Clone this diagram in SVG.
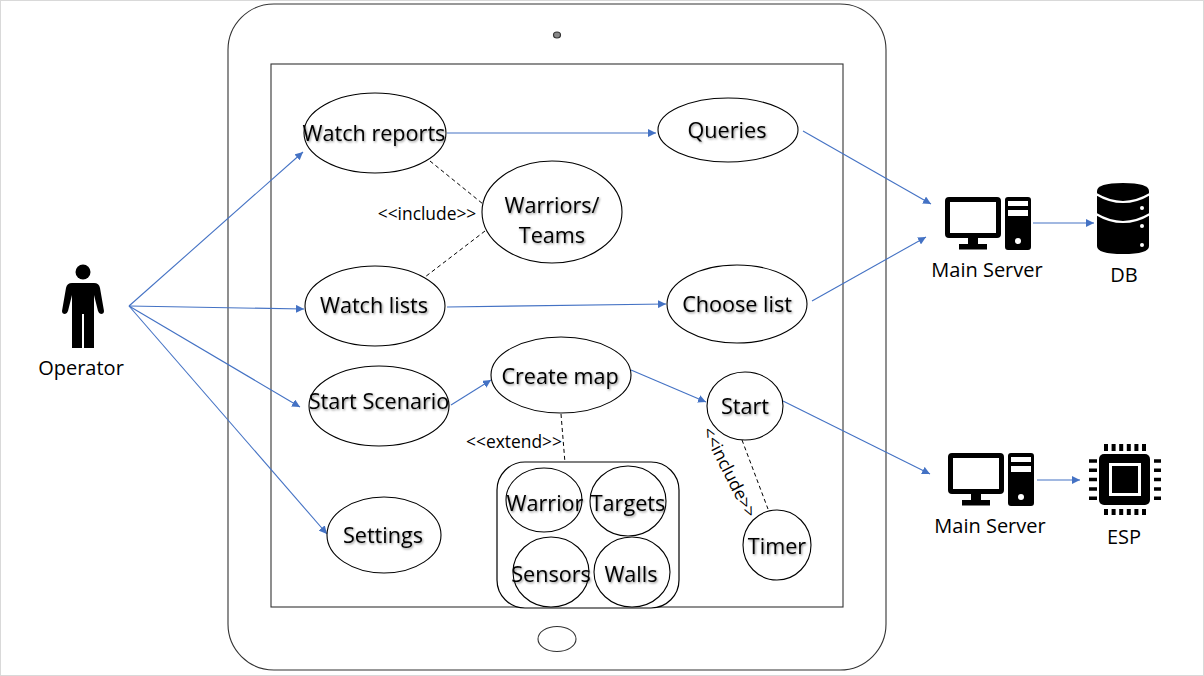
<svg xmlns="http://www.w3.org/2000/svg" width="1204" height="676" viewBox="0 0 1204 676">
<style>
text{font-family:"Open Sans","Noto Sans","Liberation Sans",sans-serif;fill:#000;text-anchor:middle}
.n{font-size:21.6px;filter:url(#ts)}
.l{font-size:20px}
.s{font-size:17.4px}
.e{fill:#fff;stroke:#000;stroke-width:1.1}
.c{fill:none;stroke:#4472c4;stroke-width:1.1;marker-end:url(#a)}
.d{fill:none;stroke:#000;stroke-width:1;stroke-dasharray:4 3}
.t{stroke:#333;stroke-width:1.1}
</style>
<defs>
<marker id="a" markerUnits="userSpaceOnUse" markerWidth="10" markerHeight="8" refX="8" refY="4" orient="auto"><path d="M0 0L8 4L0 8Z" fill="#4472c4"/></marker>
<filter id="ts" x="-10%" y="-20%" width="120%" height="150%"><feDropShadow dx="1" dy="1.2" stdDeviation="1" flood-color="#000" flood-opacity=".45"/></filter>
<g id="pc">
<path fill-rule="evenodd" d="M4 0H52Q56 0 56 4V37Q56 41 52 41H4Q0 41 0 37V4Q0 0 4 0ZM5 5V36H51V5Z"/>
<rect x="23" y="41" width="10" height="7"/><rect x="14" y="47" width="28" height="5.5"/>
<path fill-rule="evenodd" d="M63 0H83Q86 0 86 3V50Q86 53 83 53H63Q60 53 60 50V3Q60 0 63 0ZM63 4V9H83V4ZM63 13V19H83V13Z"/>
<circle cx="73" cy="44" r="3" fill="#fff"/>
</g>
</defs>
<rect width="1204" height="676" fill="#fff"/>
<rect x="0.5" y="0.5" width="1203" height="675" fill="none" stroke="#d9d9d9"/>
<g id="tablet">
<rect class="t" x="228" y="4" width="658" height="666" rx="46" fill="#fff"/>
<rect class="t" x="271" y="64" width="572" height="543" fill="#fff"/>
<ellipse cx="557" cy="35" rx="3.5" ry="3" fill="#888" stroke="#333" stroke-width="1.2"/>
<ellipse class="t" cx="557" cy="639" rx="19" ry="12.5" fill="#fff"/>
</g>
<g id="connectors">
<path class="c" d="M129 306L303 152"/>
<path class="c" d="M129 306L304 309"/>
<path class="c" d="M129 306L300 407"/>
<path class="c" d="M129 306L327 534"/>
<path class="c" d="M447 133H656"/>
<path class="c" d="M447 307L666 304"/>
<path class="c" d="M451 405L491 380"/>
<path class="c" d="M631 370L706 402"/>
<path class="c" d="M803 131L931 204"/>
<path class="c" d="M812 301L926 237"/>
<path class="c" d="M1033 223H1094"/>
<path class="c" d="M783 401L930 474"/>
<path class="c" d="M1037 480H1080"/>
<path class="d" d="M430 161L483 204"/>
<path class="d" d="M485 231L425 277"/>
<path class="d" d="M561 414L565 463"/>
<path class="d" d="M742 440L768 509"/>
</g>
<g id="watch-reports"><ellipse class="e" cx="375" cy="133" rx="71" ry="40"/><text class="n" x="374" y="141">Watch reports</text></g>
<g id="queries"><ellipse class="e" cx="728" cy="130" rx="70" ry="32"/><text class="n" x="727" y="138">Queries</text></g>
<g id="warriors-teams"><ellipse class="e" cx="552" cy="212" rx="70" ry="51"/><text class="n" x="552" y="213">Warriors/</text><text class="n" x="552" y="243">Teams</text></g>
<g id="include-label"><text class="s" x="427" y="220">&lt;&lt;include&gt;&gt;</text></g>
<g id="watch-lists"><ellipse class="e" cx="375" cy="306" rx="70" ry="40"/><text class="n" x="374" y="313">Watch lists</text></g>
<g id="choose-list"><ellipse class="e" cx="737" cy="304" rx="70" ry="39"/><text class="n" x="737" y="312">Choose list</text></g>
<g id="start-scenario"><ellipse class="e" cx="379" cy="406" rx="70" ry="40"/><text class="n" x="379" y="409">Start Scenario</text></g>
<g id="create-map"><ellipse class="e" cx="561" cy="375" rx="70" ry="38"/><text class="n" x="560" y="384">Create map</text></g>
<g id="start"><ellipse class="e" cx="745" cy="406" rx="38" ry="34"/><text class="n" x="745" y="414">Start</text></g>
<g id="timer"><ellipse class="e" cx="777" cy="545" rx="34" ry="35"/><text class="n" x="777" y="554">Timer</text></g>
<g id="settings"><ellipse class="e" cx="384" cy="535" rx="57" ry="38"/><text class="n" x="383" y="543">Settings</text></g>
<g id="extend-label"><text class="s" x="514" y="448">&lt;&lt;extend&gt;&gt;</text></g>
<g id="elements-box"><rect x="497" y="462" width="182" height="146" rx="28" fill="#fff" stroke="#000" stroke-width="1.2"/></g>
<g id="warrior"><ellipse class="e" cx="544" cy="500" rx="38" ry="32"/><text class="n" x="545" y="511">Warrior</text></g>
<g id="targets"><ellipse class="e" cx="628" cy="501" rx="38" ry="35"/><text class="n" x="628" y="511">Targets</text></g>
<g id="sensors"><ellipse class="e" cx="551" cy="572" rx="38" ry="35"/><text class="n" x="551" y="582">Sensors</text></g>
<g id="walls"><ellipse class="e" cx="632" cy="572" rx="38" ry="35"/><text class="n" x="631" y="582">Walls</text></g>
<g id="rotated-include"><text class="s" transform="translate(724 475) rotate(63)">&lt;&lt;include&gt;&gt;</text></g>
<g id="operator">
<circle cx="83" cy="272" r="7.5"/>
<path d="M72 283H94Q99 283 100 288L104 311Q104 314 101 314Q99 314 98 311L94 295V348H84V314H82V348H72V295L68 311Q67 314 65 314Q62 314 62 311L66 288Q67 283 72 283Z"/>
<text class="l" x="81" y="375">Operator</text>
</g>
<g id="main-server-1"><use href="#pc" x="945" y="197"/><text class="l" x="987" y="277">Main Server</text></g>
<g id="db">
<path d="M1097 191Q1097 183 1123 183Q1149 183 1149 191V246Q1149 254 1123 254Q1097 254 1097 246Z"/>
<path d="M1096 194Q1123 210 1150 194M1096 214Q1123 230 1150 214" fill="none" stroke="#fff" stroke-width="2.2"/>
<circle cx="1142" cy="208" r="2" fill="#fff"/><circle cx="1142" cy="226" r="2" fill="#fff"/><circle cx="1142" cy="245" r="2" fill="#fff"/>
<text class="l" x="1124" y="282">DB</text>
</g>
<g id="main-server-2"><use href="#pc" x="948" y="453"/><text class="l" x="990" y="533">Main Server</text></g>
<g id="esp">
<rect x="1099" y="454" width="51" height="51" rx="5"/>
<rect x="1110.500" y="464.500" width="29" height="30" fill="#000" stroke="#fff" stroke-width="3"/>
<path d="M1106 444V451M1113.600 444V451M1121.200 444V451M1128.800 444V451M1136.400 444V451M1144 444V451M1106 509V515M1113.600 509V515M1121.200 509V515M1128.800 509V515M1136.400 509V515M1144 509V515" stroke="#000" stroke-width="4"/>
<path d="M1089 461H1097M1089 470.300H1097M1089 479.600H1097M1089 488.900H1097M1089 498.200H1097M1154 461H1161M1154 470.300H1161M1154 479.600H1161M1154 488.900H1161M1154 498.200H1161" stroke="#000" stroke-width="3.500"/>
<text class="l" x="1124" y="544">ESP</text>
</g>
</svg>
